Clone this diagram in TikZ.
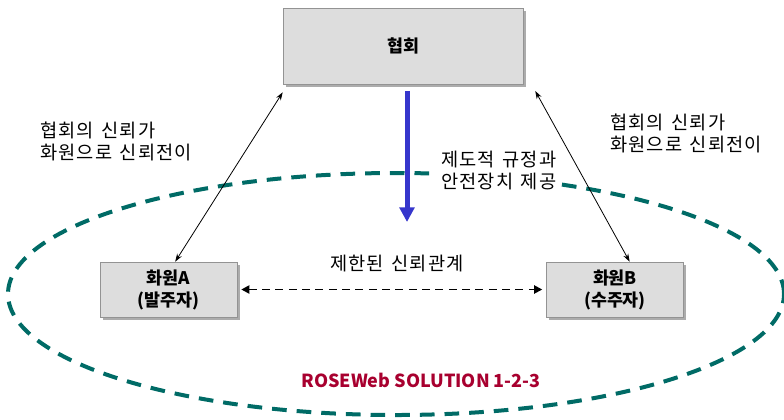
\documentclass[tikz,border=0pt]{standalone}
\usepackage{fontspec}
\setmainfont{Noto Sans CJK KR}
\newfontfamily\lblfont[LetterSpace=6,WordSpace=1.4]{Noto Sans CJK KR}
\usetikzlibrary{arrows.meta,shadows}
\definecolor{boxgray}{HTML}{DDDDDD}
\definecolor{ovalteal}{HTML}{006B66}
\definecolor{pushblue}{HTML}{3636CC}
\definecolor{brandred}{HTML}{A8002F}

\begin{document}
\begin{tikzpicture}[x=0.75pt,y=-0.75pt,
 font=\lblfont\fontsize{14}{16.5}\selectfont,
    B/.style = {rectangle, draw=gray!85, fill=boxgray,% boxes with shadow
                font=\fontsize{13}{16.5}\selectfont\bfseries, align=center,
                drop shadow={shadow xshift=2pt, shadow yshift=-2pt,
                             fill=gray!65, opacity=1}},
    T/.style = {align=left, inner sep=0pt},
    L/.style = {{Stealth[length=6pt,width=4pt]}-{Stealth[length=6pt,width=4pt]},
                line width=0.6pt},
                        ]
\useasboundingbox (0,0) rectangle (784,419);

% outer dashed oval
\draw[ovalteal, line width=3pt, dash pattern=on 11pt off 7.5pt]
    (396,294) ellipse [x radius=291pt, y radius=90.75pt];

\node[B, minimum width=180pt, minimum height=57pt] (hyup) at (403,46) {협회};
\node[B, minimum width=102.75pt, minimum height=41.25pt] (memA) at (168.5,289.5) {화원A\\(발주자)};
\node[B, minimum width=102.75pt, minimum height=41.25pt] (memB) at (615,289.5) {화원B\\(수주자)};

\node[T, anchor=west, fill=white, inner xsep=3pt, inner ysep=1pt] (ruleTxt) at (437,171)
    {제도적 규정과\\안전장치 제공};

\coordinate (blueEnd) at (407,222);
\draw[pushblue, line width=3.75pt, -{Triangle[width=11pt,length=11pt]}]
    ([xshift=3pt,yshift=-5pt]hyup.south) -- (blueEnd);

\draw[L] ([xshift=5pt]memA.north) -- ([yshift=-6pt]hyup.south west);
\draw[L] ([xshift=11pt]memB.north) -- ([xshift=9pt,yshift=-5pt]hyup.south east);
\draw[line width=1.4pt, dash pattern=on 6pt off 4pt,
      {Triangle[length=6pt,width=6pt]}-{Triangle[length=6pt,width=6pt]}]
    ([xshift=3pt]memA.east) -- ([xshift=-3pt]memB.west);

\node[T, anchor=west] (leftTxt) at (40,141) {협회의 신뢰가\\화원으로 신뢰전이};
\node[T, anchor=west] (rightTxt) at (610,133) {협회의 신뢰가\\화원으로 신뢰전이};
\node (limitTxt) at (397,264) {제한된 신뢰관계};
\node[text=brandred, font=\fontsize{13.5}{16.5}\selectfont\bfseries] (brand) at (421,380)
    {ROSEWeb SOLUTION 1-2-3};

\end{tikzpicture}
\end{document}
